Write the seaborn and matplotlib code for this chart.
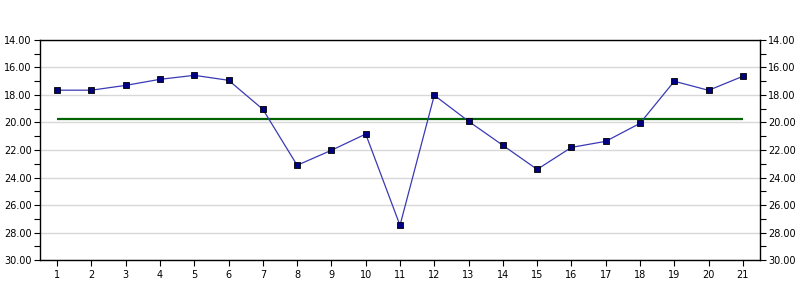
import matplotlib
matplotlib.use("Agg")
import matplotlib.pyplot as plt
import seaborn as sns
import pandas as pd
from matplotlib.ticker import MultipleLocator, FormatStrFormatter

samples = list(range(1, 22))
values = [17.65, 17.65, 17.30, 16.86, 16.57, 16.93, 19.04, 23.11, 22.02, 20.84,
          27.48, 18.02, 19.91, 21.66, 23.41, 21.81, 21.37, 20.06, 17.00, 17.66, 16.64]
mean_level = 19.72

sns.set_theme(style="white")
plt.rcParams['font.family'] = ['DejaVu Sans']

df = pd.DataFrame({"x": samples, "y": values})
df_mean = pd.DataFrame({"x": [samples[0], samples[-1]], "y": [mean_level, mean_level]})

fig = plt.figure(figsize=(8, 3), dpi=100)
ax = fig.add_axes([0.05, 0.1333, 0.90, 0.7334])

sns.lineplot(data=df_mean, x="x", y="y", ax=ax, color="#006400", linewidth=1.6,
             solid_capstyle="butt", zorder=2)
sns.lineplot(data=df, x="x", y="y", ax=ax, color="#3a3ab4", linewidth=0.9,
             marker="s", markersize=3.8, markerfacecolor="#000080",
             markeredgecolor="#000000", markeredgewidth=0.6, zorder=3)

ax.set_xlim(0.5, 21.5)
ax.set_ylim(30, 14)
ax.set_xticks(samples)
ax.yaxis.set_major_locator(MultipleLocator(2))
ax.yaxis.set_minor_locator(MultipleLocator(1))
ax.yaxis.set_major_formatter(FormatStrFormatter("%.2f"))
ax.grid(axis="y", which="major", color="#d8d8d8", linewidth=1, zorder=0)
ax.set_axisbelow(True)
ax.set_xlabel("")
ax.set_ylabel("")

for s in ax.spines.values():
    s.set_visible(True)
    s.set_color("black")
    s.set_linewidth(1)

ax.tick_params(axis="y", which="both", left=True, right=True, labelleft=True,
               labelright=True, direction="out", length=4, width=0.8,
               labelsize=7, colors="black", pad=2)
ax.tick_params(axis="x", which="major", bottom=True, direction="out", length=4,
               width=0.8, labelsize=7, colors="black", pad=3)

fig.savefig("out.png", dpi=100)
